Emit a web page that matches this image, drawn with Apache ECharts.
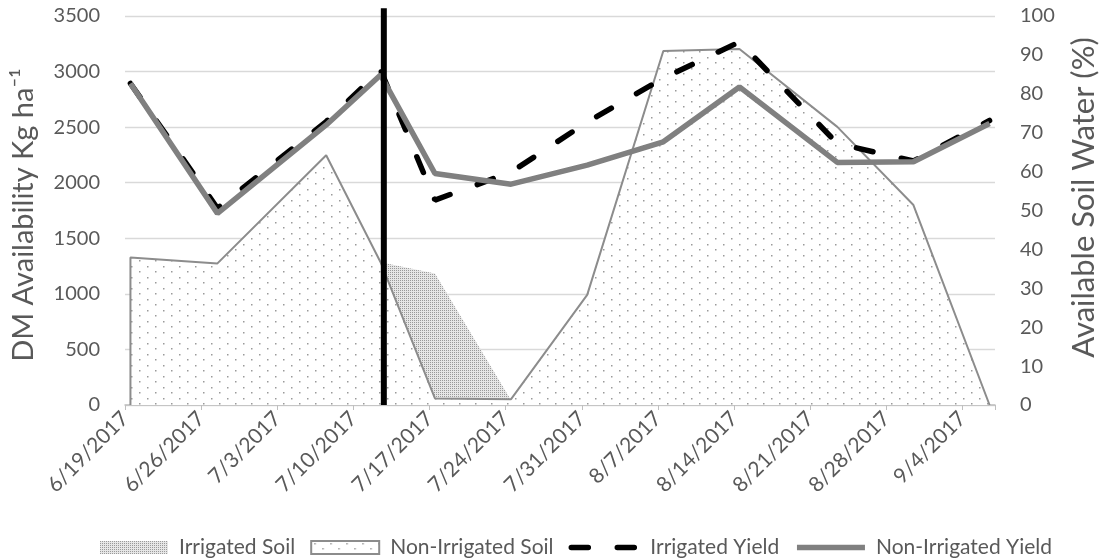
<!DOCTYPE html>
<html>
<head>
<meta charset="utf-8">
<script src="https://cdn.jsdelivr.net/npm/echarts@6/dist/echarts.min.js"></script>
<style>
html,body{margin:0;padding:0;background:#fff}
#main{width:1107px;height:560px}
</style>
</head>
<body>
<div id="main"></div>
<script>
// sampling dates (axis starts 6/19/2017, one slot per day, points sit mid-slot)
var sampleDates = ['6/19/2017','6/27/2017','7/7/2017','7/12/2017','7/17/2017','7/24/2017',
                   '7/31/2017','8/7/2017','8/14/2017','8/23/2017','8/30/2017','9/6/2017'];
// available soil water, %
var irrigatedSoil    = [37.9, 36.4, 64.2, 36.7, 33.8, 1.2, 28.3, 91.0, 91.5, 71.5, 51.4, 0];
var nonIrrigatedSoil = [37.9, 36.4, 64.2, 36.7, 1.7, 1.5, 28.3, 91.0, 91.5, 71.5, 51.4, 0];
// DM availability, kg/ha
var irrigatedYield    = [2893, 1770, 2550, 3013, 1844, 2095, 2545, 2940, 3267, 2353, 2195, 2560];
var nonIrrigatedYield = [2893, 1724, 2520, 2970, 2083, 1987, 2158, 2368, 2862, 2183, 2188, 2533];
// irrigation start bar (days after 6/19/2017) and its top (kg/ha)
var irrigationDay = 23.8;
var irrigationTop = 3570;
var axisStart = '6/19/2017';
var axisDays = 80;
var tickDays = 7;

var FONT = 'Lato';
var TXT = '#595959';
var DAY = 86400000;

function toUtc(s){
    var p = s.split('/');
    return Date.UTC(+p[2], p[0]-1, +p[1]);
}
var t0 = toUtc(axisStart);
function dayOf(s){ return (toUtc(s) - t0) / DAY; }
function pts(vals){
    return sampleDates.map(function(d, i){ return [dayOf(d) + 0.5, vals[i]]; });
}
function dateLabel(v){
    if (v % tickDays !== 0 || v >= axisDays) return '';
    var d = new Date(t0 + v * DAY);
    return (d.getUTCMonth()+1) + '/' + d.getUTCDate() + '/' + d.getUTCFullYear();
}

// fill patterns
function makePattern(w, h, bg, dots, dotColor, size){
    var c = document.createElement('canvas');
    c.width = w; c.height = h;
    var g = c.getContext('2d');
    g.fillStyle = bg;
    g.fillRect(0, 0, w, h);
    g.fillStyle = dotColor;
    dots.forEach(function(p){ g.fillRect(p[0], p[1], size, size); });
    return {image: c, repeat: 'repeat'};
}
var finePattern = makePattern(2, 2, '#e6e6e6', [[0,0]], '#999', 1);
var dotPattern  = makePattern(16, 11, '#fff', [[3,2],[11,7]], '#9a9a9a', 1.5);

var nonIrrData = pts(nonIrrigatedSoil);
nonIrrData.unshift([nonIrrData[0][0], 0]);   // close left edge of the outline

var noSymbol = {color: 'rgba(0,0,0,0)', borderWidth: 0};

var chart = echarts.init(document.getElementById('main'));
var option = {
    animation: false,
    textStyle: {fontFamily: FONT},
    grid: {left: 125, right: 107, top: 16, bottom: 155},
    legend: {
        left: 95, top: 532,
        itemWidth: 68, itemHeight: 13, itemGap: 15,
        textStyle: {fontFamily: FONT, fontSize: 21, color: TXT, padding: [0, 0, 0, 6]},
        data: [
            {name: 'Irrigated Soil', icon: 'rect', itemStyle: {color: finePattern, borderWidth: 0}},
            {name: 'Non-Irrigated Soil', icon: 'rect', itemStyle: {color: dotPattern, borderColor: '#8c8c8c', borderWidth: 2}},
            {name: 'Irrigated Yield', itemStyle: noSymbol,
             lineStyle: {color: '#000', width: 5.5, type: [17, 29], cap: 'round'}},
            {name: 'Non-Irrigated Yield', itemStyle: noSymbol,
             lineStyle: {color: '#808080', width: 5.5}}
        ]
    },
    xAxis: {
        type: 'value', min: 0, max: axisDays, interval: tickDays,
        axisLine: {lineStyle: {color: '#bfbfbf', width: 1.5}},
        axisTick: {show: true, length: 5, lineStyle: {color: '#bfbfbf'}},
        splitLine: {show: false},
        axisLabel: {
            rotate: 45, margin: 10, fontSize: 21, color: TXT, fontFamily: FONT,
            formatter: dateLabel
        }
    },
    yAxis: [
        {
            type: 'value', min: 0, max: 3500, interval: 500,
            name: 'DM Availability Kg ha\u207B\u00B9',
            nameLocation: 'middle', nameRotate: 90, nameGap: 87,
            nameTextStyle: {fontSize: 29, color: TXT, fontFamily: FONT, padding: [0, 9, 0, 0]},
            axisLine: {show: false}, axisTick: {show: false},
            axisLabel: {fontSize: 20, color: TXT, margin: 25, fontFamily: FONT,
                        formatter: function(v){ return String(v); }},
            splitLine: {lineStyle: {color: '#d9d9d9', width: 1.3}}
        },
        {
            type: 'value', min: 0, max: 100, interval: 10, position: 'right',
            name: 'Available Soil Water (%)',
            nameLocation: 'middle', nameRotate: 90, nameGap: 73,
            nameTextStyle: {fontSize: 31, color: TXT, fontFamily: FONT, padding: [0, 0, 0, 26]},
            axisLine: {show: false}, axisTick: {show: false},
            axisLabel: {fontSize: 20, color: TXT, margin: 25, fontFamily: FONT},
            splitLine: {show: false}
        }
    ],
    series: [
        {
            name: 'Irrigated Soil', type: 'line', yAxisIndex: 1,
            data: pts(irrigatedSoil), symbol: 'none', z: 1,
            itemStyle: {color: finePattern},
            lineStyle: {width: 0},
            areaStyle: {color: finePattern, opacity: 1}
        },
        {
            name: 'Non-Irrigated Soil', type: 'line', yAxisIndex: 1,
            data: nonIrrData, symbol: 'none', z: 2,
            itemStyle: {color: '#8c8c8c'},
            lineStyle: {color: '#8c8c8c', width: 2},
            areaStyle: {color: dotPattern, opacity: 1}
        },
        {
            name: 'Irrigated Yield', type: 'line', yAxisIndex: 0,
            data: pts(irrigatedYield), symbol: 'none', z: 3,
            itemStyle: {color: '#000'},
            lineStyle: {color: '#000', width: 5.5, type: [17, 29], cap: 'round'}
        },
        {
            name: 'Non-Irrigated Yield', type: 'line', yAxisIndex: 0,
            data: pts(nonIrrigatedYield), symbol: 'none', z: 4,
            itemStyle: {color: '#808080'},
            lineStyle: {color: '#808080', width: 5.5}
        },
        {
            name: 'Irrigation', type: 'line', yAxisIndex: 0, clip: false,
            data: [[irrigationDay, 0], [irrigationDay, irrigationTop]],
            symbol: 'none', z: 5, silent: true,
            lineStyle: {color: '#000', width: 6}
        }
    ]
};
chart.setOption(option);
</script>
</body>
</html>
